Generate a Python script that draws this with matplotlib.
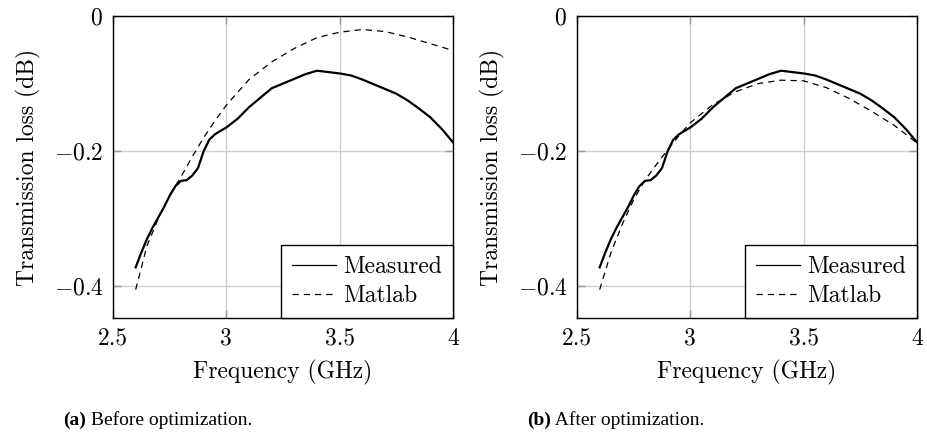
import matplotlib
matplotlib.use("Agg")
import matplotlib.pyplot as plt

plt.rcParams['font.family'] = 'serif'
plt.rcParams['font.serif'] = ['cmr10']
plt.rcParams['mathtext.fontset'] = 'cm'
plt.rcParams['axes.formatter.use_mathtext'] = True
plt.rcParams['axes.unicode_minus'] = True

# Measured transmission loss (same in both panels)
freq_meas = [2.60, 2.625, 2.65, 2.675, 2.70, 2.725, 2.75, 2.775, 2.80, 2.825,
             2.85, 2.875, 2.90, 2.925, 2.95, 2.975, 3.00, 3.05, 3.10, 3.15,
             3.20, 3.25, 3.30, 3.35, 3.40, 3.45, 3.50, 3.55, 3.60, 3.65,
             3.70, 3.75, 3.80, 3.85, 3.90, 3.95, 4.00]
loss_meas = [-0.372, -0.350, -0.330, -0.313, -0.298, -0.283, -0.266, -0.252, -0.244, -0.243,
             -0.236, -0.225, -0.200, -0.183, -0.175, -0.170, -0.165, -0.152, -0.135, -0.121,
             -0.107, -0.100, -0.093, -0.086, -0.081, -0.083, -0.085, -0.088, -0.094, -0.101,
             -0.108, -0.115, -0.125, -0.137, -0.150, -0.167, -0.187]

# Matlab model
freq_model = [2.60, 2.65, 2.70, 2.75, 2.80, 2.85, 2.90, 2.95, 3.00, 3.10,
              3.20, 3.30, 3.40, 3.50, 3.60, 3.70, 3.80, 3.90, 4.00]
loss_before = [-0.405, -0.340, -0.300, -0.265, -0.238, -0.208, -0.180, -0.155, -0.132, -0.094,
               -0.068, -0.048, -0.032, -0.024, -0.020, -0.023, -0.031, -0.041, -0.051]
loss_after = [-0.405, -0.350, -0.308, -0.272, -0.243, -0.220, -0.198, -0.177, -0.158, -0.131,
              -0.112, -0.100, -0.095, -0.096, -0.106, -0.122, -0.141, -0.162, -0.188]

xticks = [2.5, 3, 3.5, 4]
xtick_labels = ['2.5', '3', '3.5', '4']
yticks = [0, -0.2, -0.4]
ytick_labels = ['$0$', r'$-0.2$', r'$-0.4$']
captions = [('(a)', ' Before optimization.'), ('(b)', ' After optimization.')]

fig = plt.figure(figsize=(9.28, 4.43), dpi=100)
axes_lefts = [113 / 928, 577 / 928]
for i, left in enumerate(axes_lefts):
    ax = fig.add_axes([left, 1 - 318 / 443, 340 / 928, 302 / 443])
    model = loss_before if i == 0 else loss_after
    ax.plot(freq_meas, loss_meas, color='black', lw=1.6, label='Measured')
    ax.plot(freq_model, model, color='black', lw=0.9, ls=(0, (5, 4)), label='Matlab')
    ax.set_xlim(2.5, 4)
    ax.set_ylim(-0.447, 0)
    ax.set_xticks(xticks)
    ax.set_xticklabels(xtick_labels, fontsize=17)
    ax.set_yticks(yticks)
    ax.set_yticklabels(ytick_labels, fontsize=17)
    ax.grid(True, color='#cfcfcf', lw=1.0)
    ax.set_axisbelow(True)
    ax.tick_params(direction='in', length=6, width=1, color='#999999',
                   top=True, right=True, pad=7)
    for s in ax.spines.values():
        s.set_linewidth(1.0)
    ax.set_xlabel('Frequency (GHz)', fontsize=17, labelpad=7)
    ax.set_ylabel('Transmission loss (dB)', fontsize=17, labelpad=9)
    leg = ax.legend(loc='lower right', borderaxespad=0, fancybox=False,
                    edgecolor='black', framealpha=1, fontsize=17,
                    handlelength=1.9, handletextpad=0.3, borderpad=0.45,
                    labelspacing=0.3)
    leg.get_frame().set_linewidth(1.0)
    for line in leg.get_lines():
        line.set_linewidth(0.9)

for i, (tag, text) in enumerate(captions):
    x0 = [63 / 928, 527 / 928][i]
    t = fig.text(x0, 1 - 420 / 443, tag, family='Liberation Serif', weight='bold',
                 fontsize=14, ha='left', va='center')
    fig.canvas.draw()
    bb = t.get_window_extent().transformed(fig.transFigure.inverted())
    fig.text(bb.x1, 1 - 420 / 443, text, family='Liberation Serif',
             fontsize=14, ha='left', va='center')

fig.savefig('out.png', dpi=100)
